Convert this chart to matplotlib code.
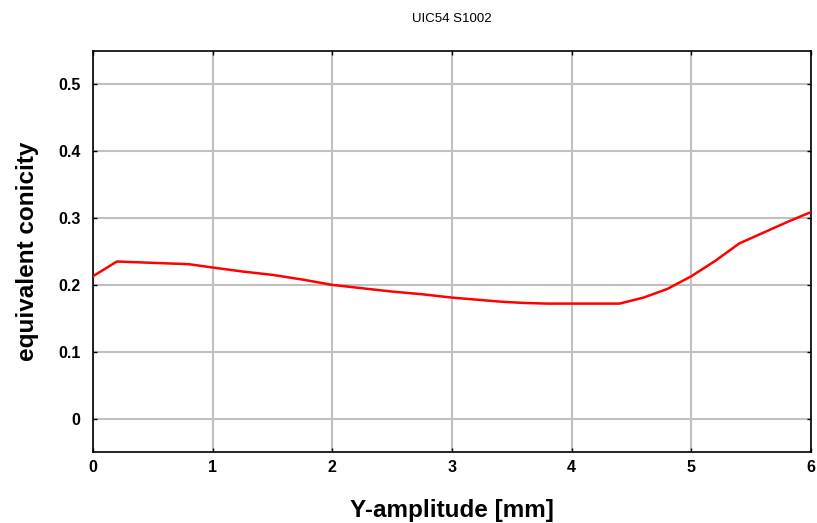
import numpy as np
import matplotlib
matplotlib.use("Agg")
import matplotlib.pyplot as plt

# Equivalent conicity vs lateral amplitude
amplitude = [0.0, 0.2, 0.5, 0.8, 1.0, 1.25, 1.5, 1.75, 2.0, 2.25, 2.5, 2.75,
             3.0, 3.2, 3.4, 3.6, 3.8, 4.0, 4.2, 4.4, 4.6, 4.8, 5.0, 5.2,
             5.4, 5.6, 5.8, 6.0]
conicity = [0.213, 0.235, 0.233, 0.231, 0.226, 0.220, 0.215, 0.208, 0.200,
            0.195, 0.190, 0.186, 0.181, 0.178, 0.175, 0.173, 0.172, 0.172,
            0.172, 0.172, 0.181, 0.194, 0.213, 0.236, 0.262, 0.278, 0.294,
            0.309]

x_ticks = [0, 1, 2, 3, 4, 5, 6]
y_ticks = [0, 0.1, 0.2, 0.3, 0.4, 0.5]
y_tick_labels = ["0", "0.1", "0.2", "0.3", "0.4", "0.5"]

plt.rcParams['font.family'] = ['Liberation Sans', 'DejaVu Sans']

fig = plt.figure(figsize=(8.17, 5.23), dpi=100)
ax = fig.add_axes([0.1138, 0.1358, 0.9927 - 0.1138, 0.9025 - 0.1358])

ax.plot(amplitude, conicity, color='#ff0000', linewidth=1.8, zorder=3)

ax.set_xlim(0, 6)
ax.set_ylim(-0.05, 0.55)
ax.set_xticks(x_ticks)
ax.set_yticks(y_ticks)
ax.set_yticklabels(y_tick_labels)
ax.grid(True, color='#c0c0c0', linewidth=1.5)
ax.set_axisbelow(True)

ax.tick_params(direction='in', length=3, width=1, top=True, right=True,
               labelsize=11.5)
ax.tick_params(axis='x', pad=6)
ax.tick_params(axis='y', pad=9)
for lbl in ax.get_xticklabels() + ax.get_yticklabels():
    lbl.set_fontweight('bold')
for s in ax.spines.values():
    s.set_linewidth(1.2)

ax.set_xlabel("Y-amplitude [mm]", fontsize=17.5, fontweight='bold', labelpad=17)
ax.set_ylabel("equivalent conicity", fontsize=17.5, fontweight='bold', labelpad=14)
ax.set_title("UIC54 S1002", fontsize=9.5, pad=21)

fig.savefig("out.png", dpi=100)
